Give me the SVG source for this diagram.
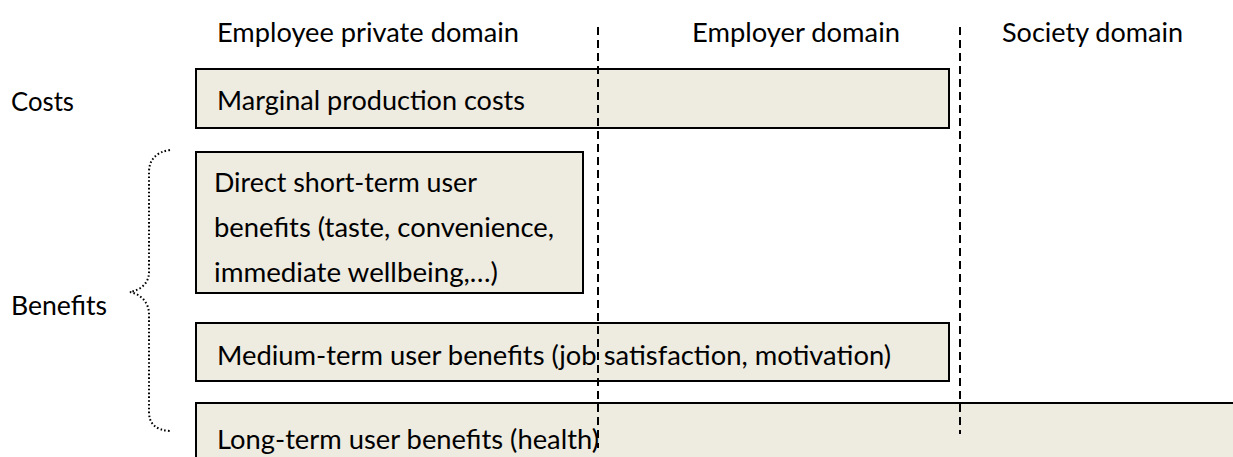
<svg xmlns="http://www.w3.org/2000/svg" width="1233" height="457" viewBox="0 0 1233 457">
<style>
text{font-family:Lato,"Open Sans","DejaVu Sans",sans-serif;font-size:27.5px;fill:#000}
.box{fill:#EEEBE0;stroke:#000;stroke-width:2}
.dash{stroke:#000;stroke-width:2;stroke-dasharray:8 5;fill:none}
.brace{stroke:#000;stroke-width:2;stroke-dasharray:1.6 2.2;fill:none}
</style>
<rect width="1233" height="457" fill="#fff"/>
<g id="headers">
<text x="217" y="42" textLength="302" lengthAdjust="spacingAndGlyphs">Employee private domain</text>
<text x="692" y="42" textLength="208" lengthAdjust="spacingAndGlyphs">Employer domain</text>
<text x="1002" y="42" textLength="181" lengthAdjust="spacingAndGlyphs">Society domain</text>
</g>
<g id="labels">
<text x="11" y="111" textLength="63" lengthAdjust="spacingAndGlyphs">Costs</text>
<text x="11" y="315" textLength="96" lengthAdjust="spacingAndGlyphs">Benefits</text>
</g>
<g id="brace">
<path class="brace" d="M170,150 C156,152 149,160 149,172 L149,272 C149,284 140,290 130,292 C140,294 149,302 149,314 L149,412 C149,424 156,430 170,431"/>
</g>
<g id="marginal">
<rect class="box" x="196" y="69" width="753" height="59"/>
<text x="217" y="110" textLength="308" lengthAdjust="spacingAndGlyphs">Marginal production costs</text>
</g>
<g id="direct">
<rect class="box" x="196" y="152" width="387" height="141"/>
<text x="214" y="192" textLength="263" lengthAdjust="spacingAndGlyphs">Direct short-term user</text>
<text x="214" y="237" textLength="340" lengthAdjust="spacingAndGlyphs">benefits (taste, convenience,</text>
<text x="214" y="282" textLength="284" lengthAdjust="spacingAndGlyphs">immediate wellbeing,…)</text>
</g>
<g id="medium">
<rect class="box" x="196" y="323" width="753" height="58"/>
<text x="217" y="365" textLength="674" lengthAdjust="spacingAndGlyphs">Medium-term user benefits (job satisfaction, motivation)</text>
</g>
<g id="long">
<rect class="box" x="196" y="403" width="1045" height="62"/>
<text x="217" y="449" textLength="382" lengthAdjust="spacingAndGlyphs">Long-term user benefits (health)</text>
</g>
<g id="connectors">
<line class="dash" x1="598" y1="27" x2="598" y2="448"/>
<line class="dash" x1="960" y1="27" x2="960" y2="434"/>
</g>
</svg>
